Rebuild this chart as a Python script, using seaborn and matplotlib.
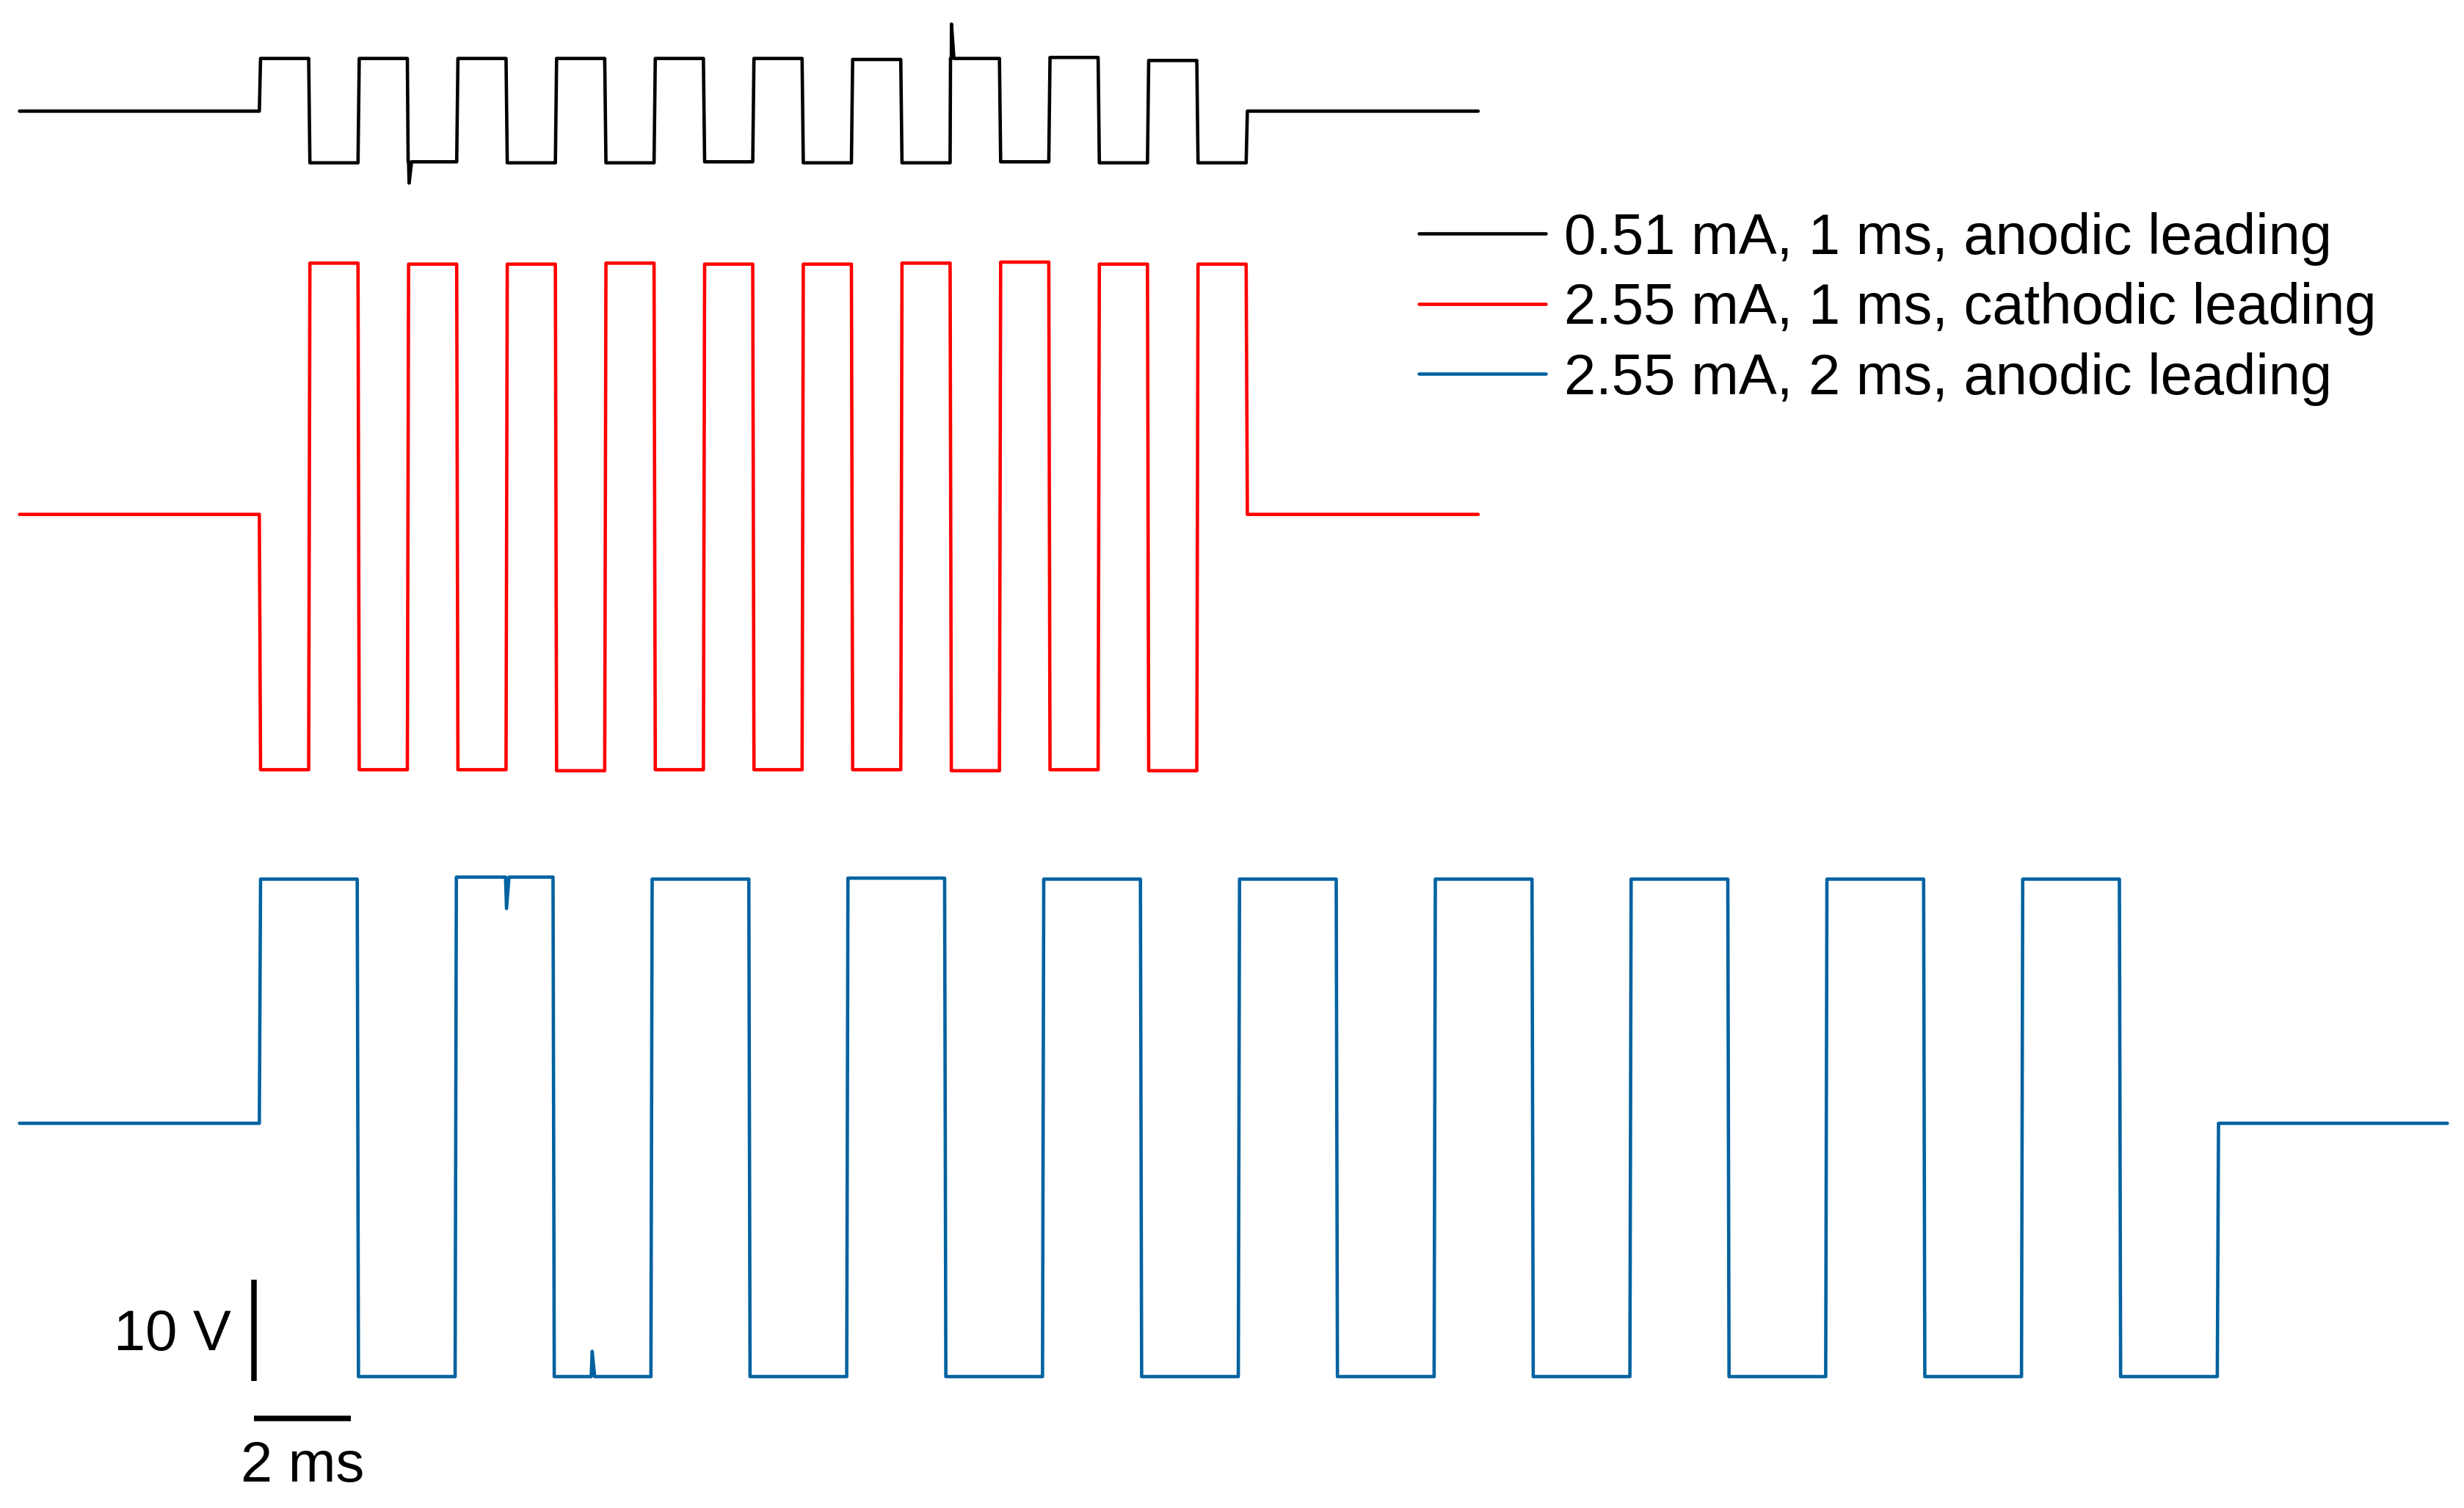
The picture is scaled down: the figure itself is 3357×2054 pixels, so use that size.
import numpy as np
import pandas as pd
import matplotlib
matplotlib.use('Agg')
import matplotlib.pyplot as plt
import seaborn as sns

# Recorded voltage traces (V), one plateau level per stimulus phase.
# Time in ms from pulse-train onset.
labels = ['0.51 mA, 1 ms, anodic leading',
          '2.55 mA, 1 ms, cathodic leading',
          '2.55 mA, 2 ms, anodic leading']

black_phase_ms = 1.008
black_levels = [5.2, -5.1, 5.2, -5.0, 5.2, -5.1, 5.2, -5.1, 5.2, -5.0,
                5.2, -5.1, 5.1, -5.1, 5.2, -5.0, 5.3, -5.1, 5.0, -5.1]
black_spike_t = [3.06, 14.14]
black_spike_v = [-7.1, 8.6]

red_phase_ms = 1.008
red_levels = [-25.2, 24.8, -25.2, 24.7, -25.2, 24.7, -25.3, 24.8, -25.2, 24.7,
              -25.2, 24.7, -25.2, 24.8, -25.3, 24.9, -25.2, 24.7, -25.3, 24.7]

blue_phase_ms = 2.0
blue_levels = [24.1, -25.0, 24.3, -25.0, 24.1, -25.0, 24.2, -25.0, 24.1, -25.0,
               24.1, -25.0, 24.1, -25.0, 24.1, -25.0, 24.1, -25.0, 24.1, -25.0]
blue_spike_t = [5.05, 6.8]
blue_spike_v = [21.2, -22.5]

record_start = -4.9
record_end = [24.9, 24.9, 44.7]

# vertical stacking of traces (V)
offsets = [99.9, 60.1, 0.0]
colors = ['#000000', '#FF0000', '#0062A0']
ramp = 0.025


def build_trace(levels, dur, t_end, spike_t=(), spike_v=()):
    t = [record_start, 0.0]
    v = [0.0, 0.0]
    for i, lvl in enumerate(levels):
        t += [i * dur + ramp, (i + 1) * dur]
        v += [lvl, lvl]
    t += [len(levels) * dur + ramp, t_end]
    v += [0.0, 0.0]
    for ts, vs in zip(spike_t, spike_v):
        lvl = levels[int(ts // dur)]
        t += [ts - 0.02, ts, ts + 0.05]
        v += [lvl, vs, lvl]
    order = np.argsort(t, kind='stable')
    return np.array(t)[order], np.array(v)[order]


traces = [
    build_trace(black_levels, black_phase_ms, record_end[0], black_spike_t, black_spike_v),
    build_trace(red_levels, red_phase_ms, record_end[1]),
    build_trace(blue_levels, blue_phase_ms, record_end[2], blue_spike_t, blue_spike_v),
]

frames = []
for k, (t, v) in enumerate(traces):
    frames.append(pd.DataFrame({'time': t, 'volt': v + offsets[k], 'trace': labels[k]}))
df = pd.concat(frames, ignore_index=True)

sns.set_style('white')
plt.rcParams['font.family'] = ['Liberation Sans', 'DejaVu Sans']
plt.rcParams['text.color'] = 'black'

fig = plt.figure(figsize=(33.57, 20.54), dpi=100)
ax = fig.add_axes([0, 0, 1, 1])

sns.lineplot(data=df, x='time', y='volt', hue='trace', palette=colors,
             estimator=None, sort=False, linewidth=3.3, ax=ax)

# scale bars
ax.plot([-0.11, -0.11], [-25.4, -15.4], color='black', linewidth=5.4,
        solid_capstyle='butt')
ax.plot([-0.11, 1.87], [-29.1, -29.1], color='black', linewidth=5.4,
        solid_capstyle='butt')
ax.text(-0.58, -20.9, '10 V', fontsize=56, ha='right', va='center')
ax.text(0.88, -33.9, '2 ms', fontsize=56, ha='center', va='center')

ax.set_xlim(-5.298, 45.04)
ax.set_ylim(-37.97, 110.87)
ax.axis('off')

ax.legend(loc='upper left', bbox_to_anchor=(0.5758, 0.8595), frameon=False,
          fontsize=56, handlelength=2.22, handletextpad=0.32, labelspacing=0.29,
          borderpad=0, borderaxespad=0)

fig.savefig('out.png', dpi=100, facecolor='white')
